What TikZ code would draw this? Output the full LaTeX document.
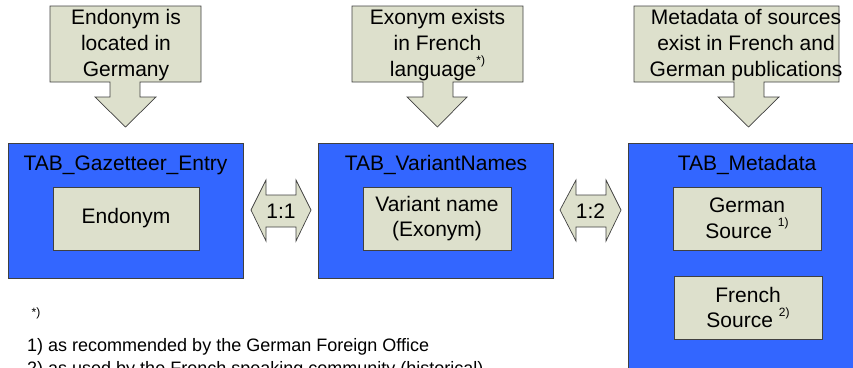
\documentclass[tikz,border=0pt]{standalone}
\usepackage{fontspec}
\setmainfont{Liberation Sans}
\definecolor{tabblue}{RGB}{51,102,255}
\definecolor{beige}{RGB}{221,224,204}
\newcommand{\supmark}[1]{\raisebox{0.55em}{\fontsize{12}{12}\selectfont #1}}
\begin{document}
\begin{tikzpicture}[x=1pt,y=-1pt,
  shapeline/.style={draw=black!75,line width=0.7pt},
  calloutshape/.style={shapeline,fill=beige},
  tabbox/.style={shapeline,fill=tabblue,inner sep=0pt},
  fieldbox/.style={shapeline,fill=beige,inner sep=0pt,align=center,
    font=\fontsize{21}{25.5}\selectfont},
  txt/.style={font=\fontsize{21}{26}\selectfont,align=center,inner sep=0pt},
  note/.style={font=\fontsize{18}{21}\selectfont,anchor=west,inner sep=0pt}]
\useasboundingbox (0,0) rectangle (853,367);
\clip (0,0) rectangle (853,367);

% callouts
\draw[calloutshape] (50,6) -- (201,6) -- (201,82) -- (140,82) -- (140,97) -- (156,97)
  -- (125.5,127) -- (95,97) -- (110,97) -- (110,82) -- (50,82) -- cycle;
\node[txt] (c1) at (126,45) {Endonym is\\located in\\Germany};

\draw[calloutshape] (352,6) -- (523,6) -- (523,82) -- (453,82) -- (453,97) -- (467,97)
  -- (437.5,127) -- (407,97) -- (423,97) -- (423,82) -- (352,82) -- cycle;
\node[txt] (c2) at (437.5,45) {Exonym exists\\in French\\language\supmark{*)}};

\draw[calloutshape] (634,6) -- (839,6) -- (839,82) -- (764,82) -- (764,97) -- (779,97)
  -- (748.5,127) -- (718,97) -- (734,97) -- (734,82) -- (634,82) -- cycle;
\node[txt] (c3) at (746,45) {Metadata of sources\\exist in French and\\German publications};

% tables
\node[tabbox,minimum width=235,minimum height=135] (tab1) at (125.5,210.5) {};
\node[txt] (t1) at (125.5,165) {TAB\_Gazetteer\_Entry};
\node[fieldbox,minimum width=146,minimum height=63] (endo) at (126,218.5) {Endonym};

\node[tabbox,minimum width=235,minimum height=135] (tab2) at (435.5,210.5) {};
\node[txt] (t2) at (436,165) {TAB\_VariantNames};
\node[fieldbox,minimum width=148,minimum height=63] (var) at (437,218.5) {Variant name\\(Exonym)};

\node[tabbox,minimum width=238,minimum height=257] (tab3) at (747,271.5) {};
\node[txt] (t3) at (747,165) {TAB\_Metadata};
\node[fieldbox,minimum width=148,minimum height=63] (ger) at (747,218.5) {German\\Source \supmark{1)}};
\node[fieldbox,minimum width=148,minimum height=63] (fre) at (748,307.5) {French\\Source \supmark{2)}};

% double arrows
\draw[calloutshape] (251,210) -- (266,180) -- (266,195) -- (296,195) -- (296,180) -- (311,210)
  -- (296,241) -- (296,227) -- (266,227) -- (266,241) -- cycle;
\node[txt] (r1) at (281,211) {1:1};
\draw[calloutshape] (560,210) -- (576,180) -- (576,195) -- (606,195) -- (606,180) -- (621,210)
  -- (606,241) -- (606,227) -- (576,227) -- (576,241) -- cycle;
\node[txt] (r2) at (590.5,211) {1:2};

% footnotes
\node[inner sep=0pt,font=\fontsize{12}{12}\selectfont] (fstar) at (36,313) {*)};
\node[note] (f1) at (27,347) {1) as recommended by the German Foreign Office};
\node[note] (f2) at (27,370) {2) as used by the French speaking community (historical)};
\end{tikzpicture}
\end{document}
